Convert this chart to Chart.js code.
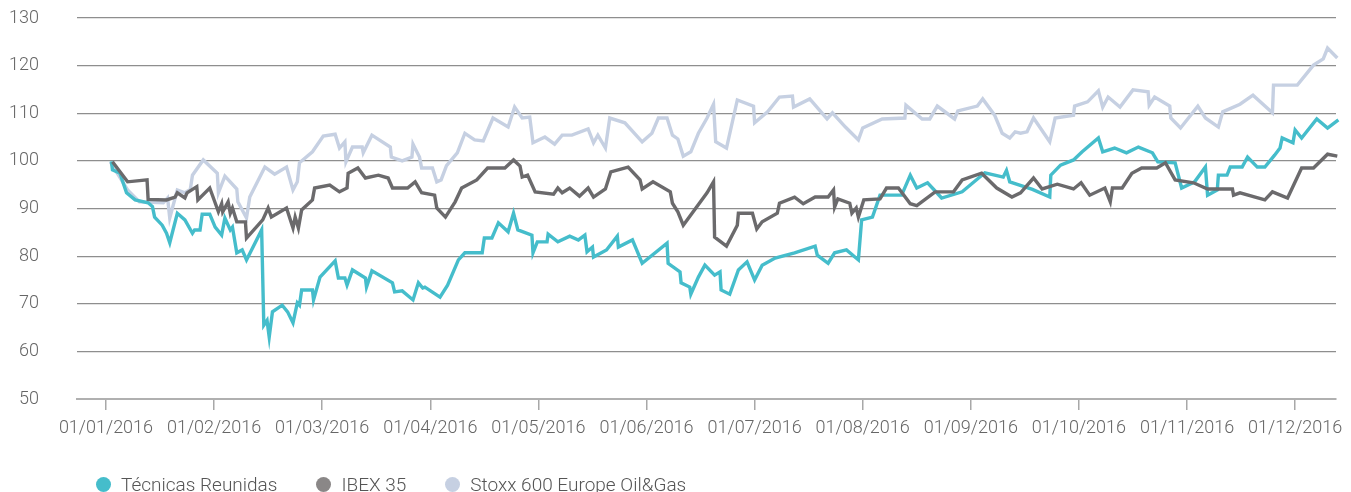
<!DOCTYPE html>
<html>
<head>
<meta charset="utf-8">
<script src="https://cdn.jsdelivr.net/npm/chart.js@4.4.1/dist/chart.umd.min.js"></script>
<style>
  body { margin: 0; background: #fff; }
  #wrap { position: relative; width: 1351px; height: 492px; overflow: hidden; }
  #legend { position: absolute; left: 96px; top: 473px; display: flex; font-family: Roboto, sans-serif; font-weight: 300; font-size: 19px; color: #555; white-space: nowrap; }
  #legend .item { display: flex; align-items: center; margin-right: 39px; }
  #legend .dot { width: 15px; height: 15px; border-radius: 50%; margin-right: 10px; }
</style>
</head>
<body>
<div id="wrap">
  <canvas id="chart1"></canvas>
  <div id="legend"></div>
</div>
<script>
// month tick labels (x = 0 is 01/01/2016, one unit per month)
const monthLabels = ['01/01/2016','01/02/2016','01/03/2016','01/04/2016','01/05/2016','01/06/2016',
  '01/07/2016','01/08/2016','01/09/2016','01/10/2016','01/11/2016','01/12/2016'];

const seriesNames = ['Técnicas Reunidas', 'IBEX 35', 'Stoxx 600 Europe Oil&Gas'];
const seriesColors = ['#45bdcb', '#6b6a6c', '#c6d0e2'];
const legendColors = ['#45bdcb', '#8a8787', '#c6d0e2'];

// Técnicas Reunidas
const trX = [0.05,0.06,0.13,0.15,0.19,0.27,0.39,0.43,0.45,0.52,0.56,0.59,0.66,0.73,0.80,0.82,0.87,0.89,0.96,1.01,
  1.07,1.10,1.15,1.17,1.21,1.26,1.30,1.44,1.46,1.49,1.51,1.54,1.63,1.68,1.73,1.77,1.79,1.81,1.91,1.92,
  1.98,2.12,2.15,2.21,2.23,2.28,2.40,2.41,2.46,2.65,2.67,2.74,2.84,2.89,2.93,2.95,3.09,3.16,3.26,3.32,
  3.48,3.50,3.57,3.63,3.72,3.77,3.81,3.94,3.95,3.99,4.08,4.09,4.18,4.29,4.37,4.43,4.45,4.50,4.51,4.63,
  4.73,4.74,4.87,4.96,5.19,5.20,5.31,5.32,5.40,5.41,5.48,5.54,5.63,5.68,5.69,5.77,5.85,5.93,6.00,6.07,
  6.19,6.37,6.56,6.58,6.68,6.74,6.85,6.96,6.99,7.09,7.16,7.36,7.44,7.50,7.60,7.73,7.92,8.13,8.30,8.33,
  8.36,8.57,8.73,8.74,8.83,8.95,9.03,9.18,9.22,9.33,9.44,9.55,9.68,9.73,9.89,9.95,10.07,10.17,10.19,10.28,
  10.29,10.37,10.40,10.51,10.56,10.65,10.72,10.81,10.86,10.88,10.98,11.00,11.06,11.20,11.30,11.40,11.44];
const trY = [99.9,98.1,97.4,96,93.3,91.8,91.2,90.4,88.2,86.5,84.8,82.8,89,87.6,84.8,85.5,85.5,88.8,88.8,86.1,
  84.4,88,85.5,86.1,80.7,81.3,79.2,85.5,65.5,66.5,63,68.3,69.7,68.3,66,70.2,69.7,72.9,72.9,70.8,
  75.6,79,75.4,75.4,73.9,77.1,75.4,73.5,76.9,74.4,72.5,72.7,70.8,74.4,73.3,73.5,71.4,73.9,79.2,80.7,
  80.7,83.8,83.8,87,85.1,89,85.5,84.4,80.7,83,83,84.6,83,84.2,83.4,84.4,80.9,81.9,79.8,81.3,
  84.2,81.9,83.4,78.5,82.7,78.5,76.7,74.4,73.5,72,75.6,78.1,76,76.7,72.9,72,77.1,78.8,75,78.1,
  79.6,80.7,82.1,80.2,78.5,80.7,81.3,79.2,87.6,88.2,92.8,92.8,97,94.3,95.4,92.2,93.5,97.5,96.6,98,
  95.6,94,92.4,97,99.1,100.2,101.9,104.8,101.9,102.7,101.7,102.9,101.7,99.8,99.6,94.3,95.6,98.7,92.8,93.9,
  97,97,98.7,98.7,100.8,98.7,98.7,101.2,102.7,104.8,103.8,106.5,104.8,108.8,106.9,108.6,107.1];

// IBEX 35
const ibexX = [0.06,0.20,0.38,0.39,0.56,0.64,0.66,0.73,0.75,0.84,0.85,0.96,1.04,1.07,1.08,1.13,1.15,1.17,1.21,1.29,
  1.30,1.45,1.50,1.53,1.67,1.73,1.75,1.78,1.81,1.91,1.93,2.07,2.16,2.23,2.24,2.33,2.40,2.52,2.61,2.65,
  2.79,2.86,2.92,3.04,3.06,3.14,3.23,3.29,3.43,3.53,3.69,3.77,3.83,3.85,3.90,3.97,4.14,4.18,4.22,4.29,
  4.38,4.46,4.51,4.62,4.67,4.83,4.94,4.96,5.06,5.22,5.24,5.29,5.34,5.56,5.62,5.63,5.74,5.84,5.85,5.98,
  6.02,6.07,6.21,6.23,6.37,6.45,6.56,6.68,6.73,6.74,6.77,6.88,6.90,6.94,6.96,7.01,7.16,7.22,7.33,7.44,
  7.50,7.67,7.84,7.92,8.10,8.24,8.38,8.46,8.58,8.66,8.80,8.95,9.02,9.10,9.24,9.29,9.31,9.40,9.49,9.58,
  9.72,9.80,9.89,10.06,10.19,10.42,10.43,10.49,10.72,10.79,10.93,11.06,11.17,11.30,11.39];
const ibexY = [99.8,95.6,96,91.9,91.8,92.4,93.3,92.2,93.3,94.6,91.8,94.3,89.3,91,89.3,91.4,89,90.1,87.2,87.2,
  83.8,87.6,90.1,88.2,90.1,85.9,88.2,85.9,89.7,91.8,94.3,94.9,93.5,94.3,97.4,98.5,96.4,97,96.4,94.3,
  94.3,95.6,93.3,92.8,90.1,88.2,91.4,94.3,96,98.5,98.5,100.2,98.9,96.6,97,93.5,93,94.3,93.3,94.3,
  92.6,94.3,92.4,94.1,97.7,98.7,96,94.1,95.6,93.5,91.1,89.3,86.5,93.3,95.6,84,82.1,86.5,89,89,
  85.7,87.2,89,91.1,92.4,91,92.4,92.4,93.9,90.3,92,91.1,89,90.1,88.2,91.8,92,94.3,94.3,91,
  90.6,93.5,93.5,96,97.4,94.3,92.4,93.3,96.4,94.1,95.1,94.1,95.4,92.8,94.3,91.4,94.3,94.3,97.4,98.5,
  98.5,99.6,96,95.4,94.1,94.1,92.8,93.3,91.8,93.5,92.2,98.5,98.5,101.4,101];

// Stoxx 600 Europe Oil&Gas
const stoxxX = [0.04,0.20,0.31,0.53,0.57,0.59,0.66,0.73,0.78,0.80,0.90,1.03,1.04,1.10,1.21,1.22,1.30,1.33,1.47,1.56,
  1.67,1.73,1.77,1.79,1.91,2.01,2.12,2.16,2.21,2.22,2.28,2.37,2.38,2.46,2.63,2.64,2.74,2.83,2.84,2.90,
  2.92,3.02,3.06,3.10,3.15,3.25,3.32,3.41,3.49,3.58,3.72,3.78,3.85,3.92,3.95,4.06,4.15,4.22,4.31,4.46,
  4.51,4.55,4.62,4.66,4.80,4.96,5.05,5.11,5.19,5.24,5.29,5.34,5.41,5.48,5.56,5.62,5.64,5.74,5.84,5.99,
  6.00,6.12,6.23,6.35,6.36,6.51,6.67,6.72,6.84,6.96,7.00,7.18,7.39,7.40,7.55,7.62,7.69,7.85,7.88,8.06,
  8.11,8.22,8.29,8.36,8.41,8.46,8.52,8.58,8.73,8.78,8.95,8.96,9.08,9.18,9.22,9.27,9.38,9.50,9.64,9.65,
  9.70,9.84,9.85,9.94,10.10,10.17,10.29,10.33,10.49,10.61,10.79,10.80,11.02,11.17,11.26,11.30,11.39,11.45];
const stoxxY = [99.8,93.9,91.4,91.2,92.2,88,93.9,93.3,94,97,100.2,97.4,93.3,96.8,94.1,91.4,88,92.4,98.7,97.2,
  98.7,93.9,95.6,99.6,101.9,105.2,105.6,102.7,104,99.8,102.9,102.9,101.7,105.4,102.9,100.8,100,100.8,103.5,100.8,
  98.5,98.5,95.6,96,99,101.7,105.8,104.4,104.2,109,107.1,111.3,109,109.2,103.8,105,103.5,105.4,105.4,106.7,
  103.8,105.4,102.7,109,108,104,105.8,109,109,105.4,104.6,101,101.9,105.8,109,111.9,104,102.7,112.8,111.5,
  108,110.3,113.4,113.6,111.3,113,108.8,110.1,107.1,104.4,106.9,108.8,109,111.7,108.8,108.8,111.5,108.8,110.5,111.5,
  113,109.6,105.8,104.8,106.1,105.8,106.1,109,104,109,109.6,111.5,112.4,114.7,111.3,113.4,111.3,114.9,114.5,111.7,
  113.4,111.5,109,106.9,111.5,109,107.1,110.3,111.9,113.8,110.1,115.9,115.9,120.1,121.4,123.7,121.6,124.3];

const toPoints = (xs, ys) => xs.map((x, i) => ({ x: x, y: ys[i] }));

const axisFont = { family: 'Roboto, sans-serif', size: 18, weight: 300 };

const chart = new Chart('chart1', {
  type: 'line',
  data: {
    datasets: [{
      label: seriesNames[0],
      data: toPoints(trX, trY),
      borderColor: seriesColors[0],
      order: 1
    }, {
      label: seriesNames[1],
      data: toPoints(ibexX, ibexY),
      borderColor: seriesColors[1],
      order: 0
    }, {
      label: seriesNames[2],
      data: toPoints(stoxxX, stoxxY),
      borderColor: seriesColors[2],
      order: 2
    }]
  },
  options: {
    responsive: true,
    maintainAspectRatio: false,
    animation: false,
    layout: { padding: { left: 9, right: 15, top: 18, bottom: 53 }, autoPadding: false },
    elements: {
      line: { borderWidth: 3.4, tension: 0, fill: false, borderJoinStyle: 'miter', borderCapStyle: 'butt' },
      point: { radius: 0, hoverRadius: 0 }
    },
    datasets: { line: { clip: false } },
    plugins: {
      legend: { display: false },
      tooltip: { enabled: false }
    },
    scales: {
      x: {
        type: 'linear',
        min: -0.268,
        max: 11.378,
        afterBuildTicks: s => { s.ticks = monthLabels.map((_, i) => ({ value: i })); },
        afterFit: s => { s.height = 40; s.paddingLeft = 0; s.paddingRight = 0; },
        ticks: {
          callback: v => monthLabels[v] || '',
          autoSkip: false,
          maxRotation: 0,
          padding: 8,
          color: '#666',
          font: axisFont
        },
        grid: { drawOnChartArea: false, drawTicks: true, tickLength: 11, color: '#a8a8a8', lineWidth: 1.5 },
        border: { display: true, color: '#b0b0b0', width: 2 }
      },
      y: {
        min: 50,
        max: 130,
        afterFit: s => { s.width = 68; s.paddingTop = 0; s.paddingBottom = 0; },
        ticks: { stepSize: 10, padding: 38, color: '#666', font: axisFont },
        grid: { color: '#8e8e8e', lineWidth: 1.2, drawTicks: false },
        border: { display: false }
      }
    }
  }
});

// HTML legend built from the chart's datasets
const legendEl = document.getElementById('legend');
chart.data.datasets.forEach((ds, i) => {
  const item = document.createElement('div');
  item.className = 'item';
  const dot = document.createElement('span');
  dot.className = 'dot';
  dot.style.background = legendColors[i];
  const txt = document.createElement('span');
  txt.textContent = ds.label;
  item.appendChild(dot);
  item.appendChild(txt);
  legendEl.appendChild(item);
});
</script>
</body>
</html>
